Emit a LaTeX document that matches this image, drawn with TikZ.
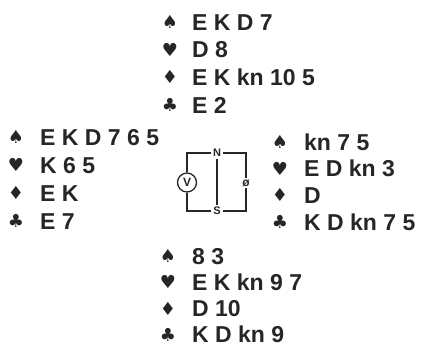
\documentclass[tikz,border=0pt]{standalone}
\usepackage{fontspec}
\setmainfont{Liberation Sans}
\newfontfamily\suitfont{DejaVu Sans}
\usepackage{tikz}
\usetikzlibrary{positioning}

\tikzset{
    cards/.style={anchor=west, inner sep=0pt, text height=16pt, text depth=0pt,
        font=\fontsize{23}{23}\selectfont\bfseries, text=black!85},
    suitsym/.style={inner sep=0pt, font=\suitfont\fontsize{18}{18}\selectfont, text=black!85},
    pole/.style={inner sep=2pt, font=\fontsize{11}{11}\selectfont\bfseries, text=black!85},
    wire/.style={draw=black!85, line width=1.3pt}
}

\begin{document}
\begin{tikzpicture}[x=1pt, y=-1pt]
        \useasboundingbox (0,0) rectangle (423,349);

        % North hand
        \foreach \s/\c [count=\i] in {♠/{E K D 7}, ♥/{D 8}, ♦/{E K kn 10 5}, ♣/{E 2}} {
            \node[suitsym] (ns\i) at (170,{22+27.7*(\i-1)}) {\s};
            \node[cards] (nc\i) at (192,{22+27.7*(\i-1)}) {\c};
        }

        % West hand
        \foreach \s/\c [count=\i] in {♠/{E K D 7 6 5}, ♥/{K 6 5}, ♦/{E K}, ♣/{E 7}} {
            \node[suitsym] (ws\i) at (16,{137+28*(\i-1)}) {\s};
            \node[cards] (wc\i) at (40,{137+28*(\i-1)}) {\c};
        }

        % East hand
        \foreach \s/\c [count=\i] in {♠/{kn 7 5}, ♥/{E D kn 3}, ♦/{D}, ♣/{K D kn 7 5}} {
            \node[suitsym] (es\i) at (280,{142+26.7*(\i-1)}) {\s};
            \node[cards] (ec\i) at (304,{142+26.7*(\i-1)}) {\c};
        }

        % South hand
        \foreach \s/\c [count=\i] in {♠/{8 3}, ♥/{E K kn 9 7}, ♦/{D 10}, ♣/{K D kn 9}} {
            \node[suitsym] (ss\i) at (168,{256+26.3*(\i-1)}) {\s};
            \node[cards] (sc\i) at (192,{256+26.3*(\i-1)}) {\c};
        }

        % Compass with meter
        \node[pole] (north) at (217,153) {N};
        \node[pole] (south) at (217,211) {S};
        \node[draw=black!85, line width=1.3pt, circle, minimum size=19pt, inner sep=0pt,
            font=\fontsize{12}{12}\selectfont\bfseries, text=black!85] (volt) at (187,182.5) {V};
        \node[inner sep=1.5pt, font=\fontsize{12}{12}\selectfont\bfseries, text=black!85] (phi) at (246,183) {ø};
        \coordinate (nw) at (187,153);
        \coordinate (sw) at (187,211);
        \coordinate (ne) at (246,153);
        \coordinate (se) at (246,211);
        \draw[wire] (north) -- (nw) -- (volt);
        \draw[wire] (volt) -- (sw) -- (south);
        \draw[wire] (north) -- (ne) -- (phi) -- (se) -- (south);
        \draw[wire] (north) -- (south);
    \end{tikzpicture}
\end{document}
